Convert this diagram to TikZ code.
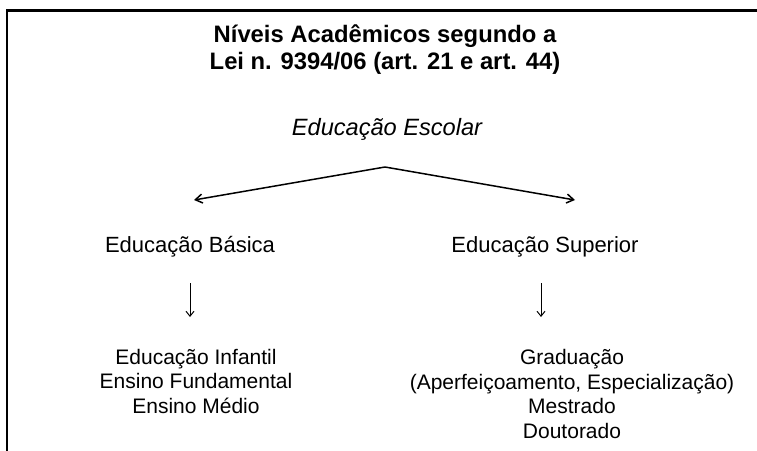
\documentclass[tikz,border=0pt]{standalone}
\usepackage{fontspec}
\setmainfont{Liberation Sans}
\usetikzlibrary{arrows.meta}
\begin{document}
\begin{tikzpicture}[x=1pt,y=-1pt,
  txt/.style={inner sep=0pt,anchor=base,align=center},
  frameline/.style={line width=2.2pt,line cap=rect},
  forkline/.style={line width=1.5pt,-{Straight Barb[length=7pt,width=9pt,line width=1.5pt]}},
  downarrow/.style={line width=1pt,-{Straight Barb[length=5pt,width=8pt,line width=1pt]}}]
\useasboundingbox (0,0) rectangle (757,450);
% frame
\coordinate (fA) at (7,450);
\coordinate (fB) at (7,10.5);
\coordinate (fC) at (757,10.5);
\draw[frameline] (fA) -- (fB) -- (fC);
% title
\node[txt,font=\fontsize{23.8}{27}\selectfont\bfseries] (title1) at (385,42) {Níveis Acadêmicos segundo a};
\node[txt,font=\fontsize{23.8}{27}\selectfont\bfseries] (title2) at (385,69) {Lei n. 9394/06 (art. 21 e art. 44)};
\node[txt,font=\fontsize{23.6}{27}\selectfont\itshape] (escolar) at (387,135) {Educação Escolar};
% fork
\coordinate (apex) at (385,167);
\coordinate (tipL) at (194,200);
\coordinate (tipR) at (575,200);
\draw[forkline] (apex) -- (tipL);
\draw[forkline] (apex) -- (tipR);
% level 2
\node[txt,font=\fontsize{22}{26}\selectfont] (basica) at (190,252) {Educação Básica};
\node[txt,font=\fontsize{22}{26}\selectfont] (superior) at (545,252) {Educação Superior};
% down arrows
\coordinate (dLa) at (190,283);
\coordinate (dLb) at (190,317);
\coordinate (dRa) at (541,283);
\coordinate (dRb) at (541,317);
\draw[downarrow] (dLa) -- (dLb);
\draw[downarrow] (dRa) -- (dRb);
% lists
\node[txt,font=\fontsize{21}{24.6}\selectfont] (lb1) at (196,364) {Educação Infantil};
\node[txt,font=\fontsize{21}{24.6}\selectfont] (lb2) at (196,388.6) {Ensino Fundamental};
\node[txt,font=\fontsize{21}{24.6}\selectfont] (lb3) at (196,413.2) {Ensino Médio};
\node[txt,font=\fontsize{21}{24.6}\selectfont] (ls1) at (572,364.5) {Graduação};
\node[txt,font=\fontsize{21}{24.6}\selectfont] (ls2) at (572,389) {(Aperfeiçoamento, Especialização)};
\node[txt,font=\fontsize{21}{24.6}\selectfont] (ls3) at (572,413.5) {Mestrado};
\node[txt,font=\fontsize{21}{24.6}\selectfont] (ls4) at (572,438) {Doutorado};
\end{tikzpicture}
\end{document}
